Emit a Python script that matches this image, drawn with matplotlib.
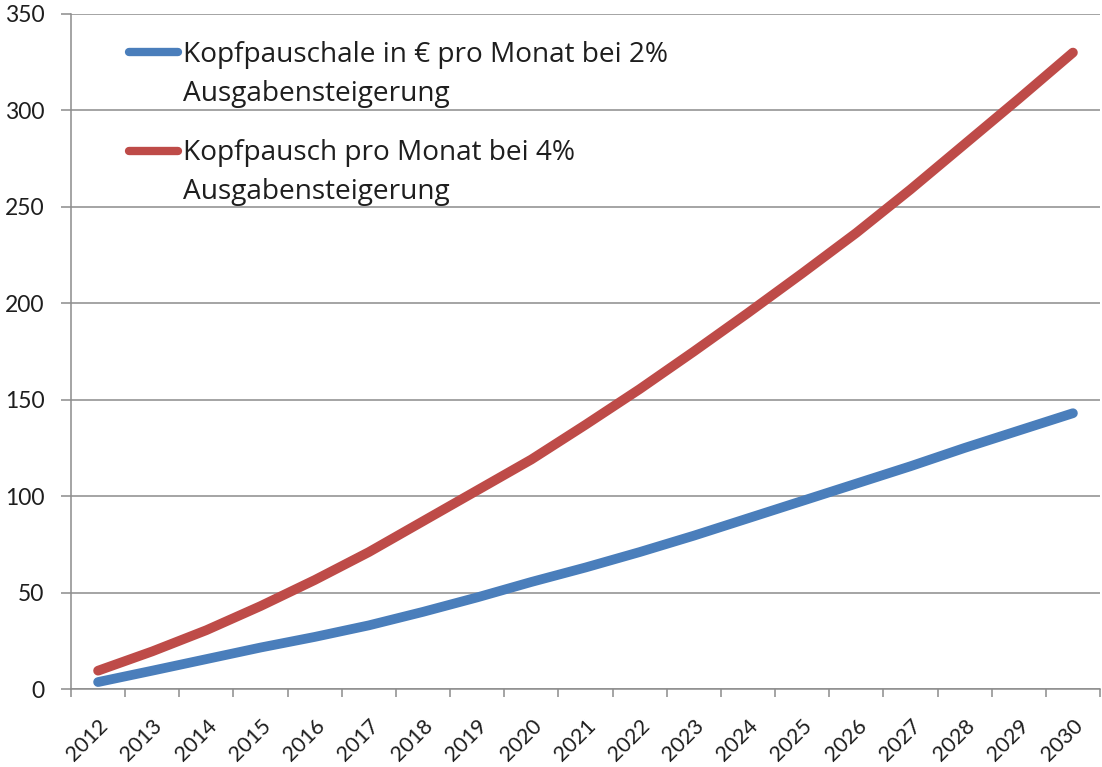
import numpy as np
import matplotlib
matplotlib.use('Agg')
import matplotlib.pyplot as plt

years = [str(y) for y in range(2012, 2031)]
kopf_2 = [3.6, 9.5, 15.5, 21.5, 27, 33, 40, 47.5, 55.5, 63, 71, 79.5, 88.5, 97.5, 106.5, 115.5, 125, 134, 143]
kopf_4 = [9.5, 19.5, 30.5, 43, 56.5, 71, 87, 103, 119, 137, 155.5, 175, 195, 215.5, 236.5, 259, 282.5, 306, 330]
label_2 = ['Kopfpauschale in € pro Monat bei 2%', 'Ausgabensteigerung']
label_4 = ['Kopfpausch pro Monat bei 4%', 'Ausgabensteigerung']

blue = '#4A7EBB'
red = '#BE4B48'
grid_c = '#8c8c8c'
txt_c = '#1e1e1e'

plt.rcParams['font.family'] = ['Lato', 'DejaVu Sans']

fig = plt.figure(figsize=(11.02, 7.67), dpi=100)
ax = fig.add_axes([71/1102, 1 - 689/767, 1029/1102, 675/767])

x = np.arange(len(years))
ax.plot(x, kopf_2, color=blue, lw=7, solid_capstyle='round', solid_joinstyle='round', zorder=3)
ax.plot(x, kopf_4, color=red, lw=7, solid_capstyle='round', solid_joinstyle='round', zorder=3)

ax.set_xlim(-0.5, len(years) - 0.5)
ax.set_ylim(0, 350)
ax.set_yticks(range(0, 351, 50))
ax.yaxis.grid(True, color=grid_c, lw=1.1)
ax.set_axisbelow(True)

ax.set_xticks(x)
ax.set_xticklabels(years, rotation=45, ha='right', rotation_mode='anchor', fontsize=15.5, color=txt_c)
ax.set_xticks(np.arange(-0.5, len(years)), minor=True)
ax.tick_params(axis='x', which='major', length=0, pad=19)
ax.tick_params(axis='x', which='minor', length=6, color=grid_c, width=1.1)
ax.tick_params(axis='y', length=7, color=grid_c, width=1.1, labelsize=16.5, labelcolor=txt_c, pad=12)

for s in ['top', 'right']:
    ax.spines[s].set_visible(False)
for s in ['left', 'bottom']:
    ax.spines[s].set_color(grid_c)
    ax.spines[s].set_linewidth(1.1)

# legend, drawn by hand so the handle sits on the first text line
def to_ax(px, py):
    return (px - 71) / 1029, (689 - py) / 675

for col, lines, py, base in [(blue, label_2, 52, 62), (red, label_4, 151, 160)]:
    x0, y0 = to_ax(129, py)
    x1, _ = to_ax(178, py)
    ax.plot([x0, x1], [y0, y0], color=col, lw=6, solid_capstyle='round',
            transform=ax.transAxes, clip_on=False)
    for i, t in enumerate(lines):
        tx, ty = to_ax(183, base + i * 39.5)
        ax.text(tx, ty, t, transform=ax.transAxes, va='baseline', ha='left',
                fontsize=20.2, color=txt_c, family=['Open Sans', 'DejaVu Sans'])

fig.savefig('out.png', dpi=100)
